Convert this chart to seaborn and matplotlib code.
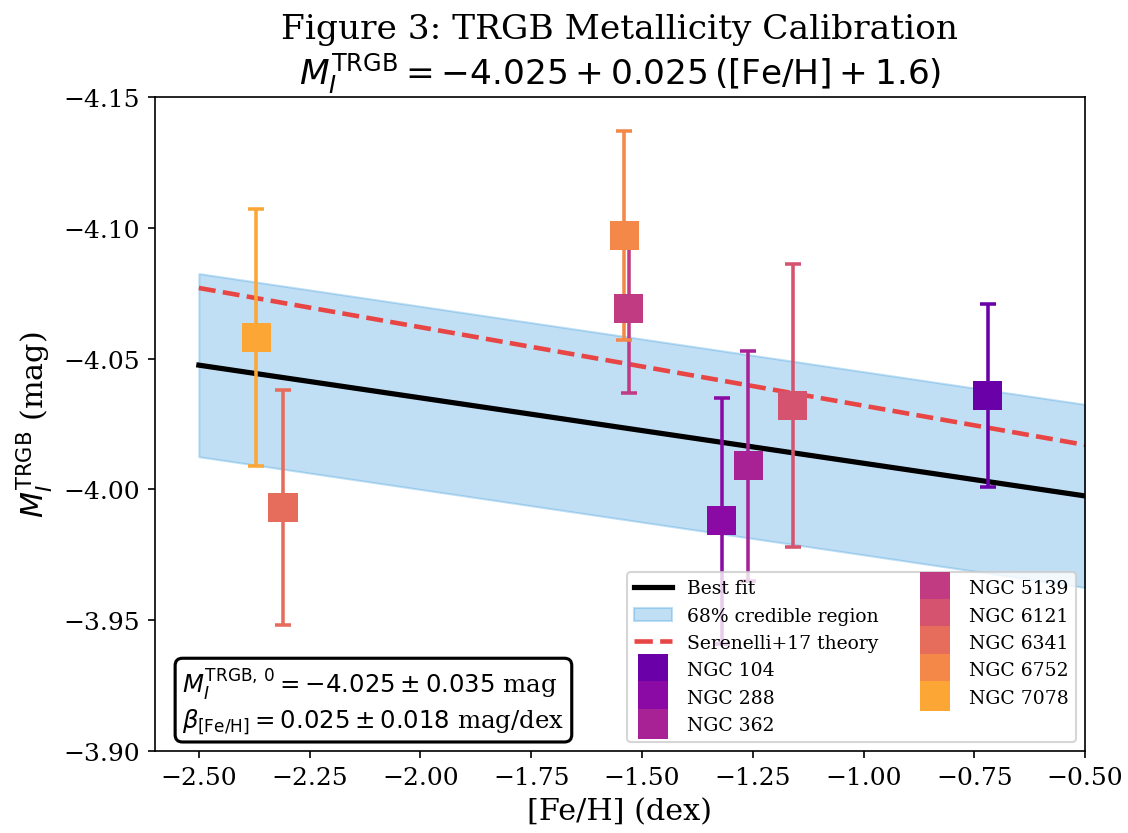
import numpy as np
import pandas as pd
import matplotlib
matplotlib.use("Agg")
import matplotlib.pyplot as plt
import seaborn as sns
from matplotlib.lines import Line2D
from matplotlib.patches import Patch

# ---------------- data ----------------
clusters = ["NGC 104", "NGC 288", "NGC 362", "NGC 5139",
            "NGC 6121", "NGC 6341", "NGC 6752", "NGC 7078"]
feh = [-0.72, -1.32, -1.26, -1.53, -1.16, -2.31, -1.54, -2.37]
mag = [-4.036, -3.988, -4.009, -4.069, -4.032, -3.993, -4.097, -4.058]
mag_err = [0.035, 0.047, 0.044, 0.032, 0.054, 0.045, 0.040, 0.049]

fit_zero = -4.025
fit_slope = 0.025
fit_sigma = 0.035
pivot = -1.6
theory_zero = -4.05
theory_slope = 0.03
feh_range = [-2.5, -0.5]

xticks = [-2.5, -2.25, -2.0, -1.75, -1.5, -1.25, -1.0, -0.75, -0.5]
yticks = [-4.15, -4.10, -4.05, -4.00, -3.95, -3.90]

# ---------------- style ----------------
plt.rcParams["font.family"] = ["DejaVu Serif"]
plt.rcParams["mathtext.fontset"] = "dejavusans"

colors = [matplotlib.colors.to_hex(c) for c in plt.cm.plasma(np.linspace(0.2, 0.8, len(clusters)))]
palette = dict(zip(clusters, colors))

df = pd.DataFrame({"cluster": clusters, "feh": feh, "mag": mag, "err": mag_err})

xr = np.array(feh_range)
lines = pd.DataFrame({
    "feh": xr,
    "fit": fit_zero + fit_slope * (xr - pivot),
    "theory": theory_zero + theory_slope * (xr - pivot),
})

fig, ax = plt.subplots(figsize=(7.52, 5.56), dpi=150)
fig.subplots_adjust(left=0.137, right=0.962, top=0.8825, bottom=0.0983)

band_col = "#3498db"
ax.fill_between(lines["feh"], lines["fit"] - fit_sigma, lines["fit"] + fit_sigma,
                color=band_col, alpha=0.3, lw=1, zorder=1)
sns.lineplot(data=lines, x="feh", y="fit", color="black", lw=2.5, ax=ax, zorder=2)
sns.lineplot(data=lines, x="feh", y="theory", color="#e84545", lw=2.2, ls="--",
             dashes=(4, 1.6), ax=ax, zorder=2)

for _, r in df.iterrows():
    ax.errorbar(r["feh"], r["mag"], yerr=r["err"], fmt="none",
                ecolor=palette[r["cluster"]], elinewidth=1.7, capsize=4,
                capthick=1.7, zorder=3)

sns.scatterplot(data=df, x="feh", y="mag", hue="cluster", palette=palette,
                marker="s", s=196, linewidth=0, ax=ax, zorder=4, legend=False)

ax.set_xlim(-2.6, -0.5)
ax.set_ylim(-3.90, -4.15)
ax.set_xticks(xticks)
ax.set_yticks(yticks)
ax.set_xticklabels([f"{v:.2f}".replace("-", "\u2212") for v in xticks])
ax.set_yticklabels([f"{v:.2f}".replace("-", "\u2212") for v in yticks])
ax.tick_params(labelsize=12)

ax.set_xlabel("[Fe/H] (dex)", fontsize=14.5)
ax.set_ylabel(r"$M_I^{\rm TRGB}$ (mag)", fontsize=14.5)
ax.set_title("Figure 3: TRGB Metallicity Calibration\n"
             r"$M_I^{\rm TRGB} = -4.025 + 0.025\,([\rm Fe/H] + 1.6)$",
             fontsize=16.5)

handles = [
    Line2D([], [], color="black", lw=2.5),
    Patch(facecolor=band_col, edgecolor=band_col, alpha=0.3, lw=1),
    Line2D([], [], color="#e84545", lw=2.2, ls="--", dashes=(4, 1.6)),
] + [Line2D([], [], marker="s", ls="none", markersize=14, color=palette[c], markeredgewidth=0)
     for c in clusters]
labels = ["Best fit", "68% credible region", "Serenelli+17 theory"] + clusters
ax.legend(handles, labels, loc="lower right", ncol=2, fontsize=9)

ax.text(0.03, 0.025,
        r"$M_I^{\rm TRGB,\,0} = -4.025 \pm 0.035$ mag" "\n"
        r"$\beta_{\rm [Fe/H]} = 0.025 \pm 0.018$ mag/dex",
        transform=ax.transAxes, fontsize=11.7, va="bottom", ha="left",
        bbox=dict(boxstyle="round,pad=0.3", facecolor="white", edgecolor="black", lw=1.5),
        zorder=6)

fig.savefig("out.png", dpi=150)
